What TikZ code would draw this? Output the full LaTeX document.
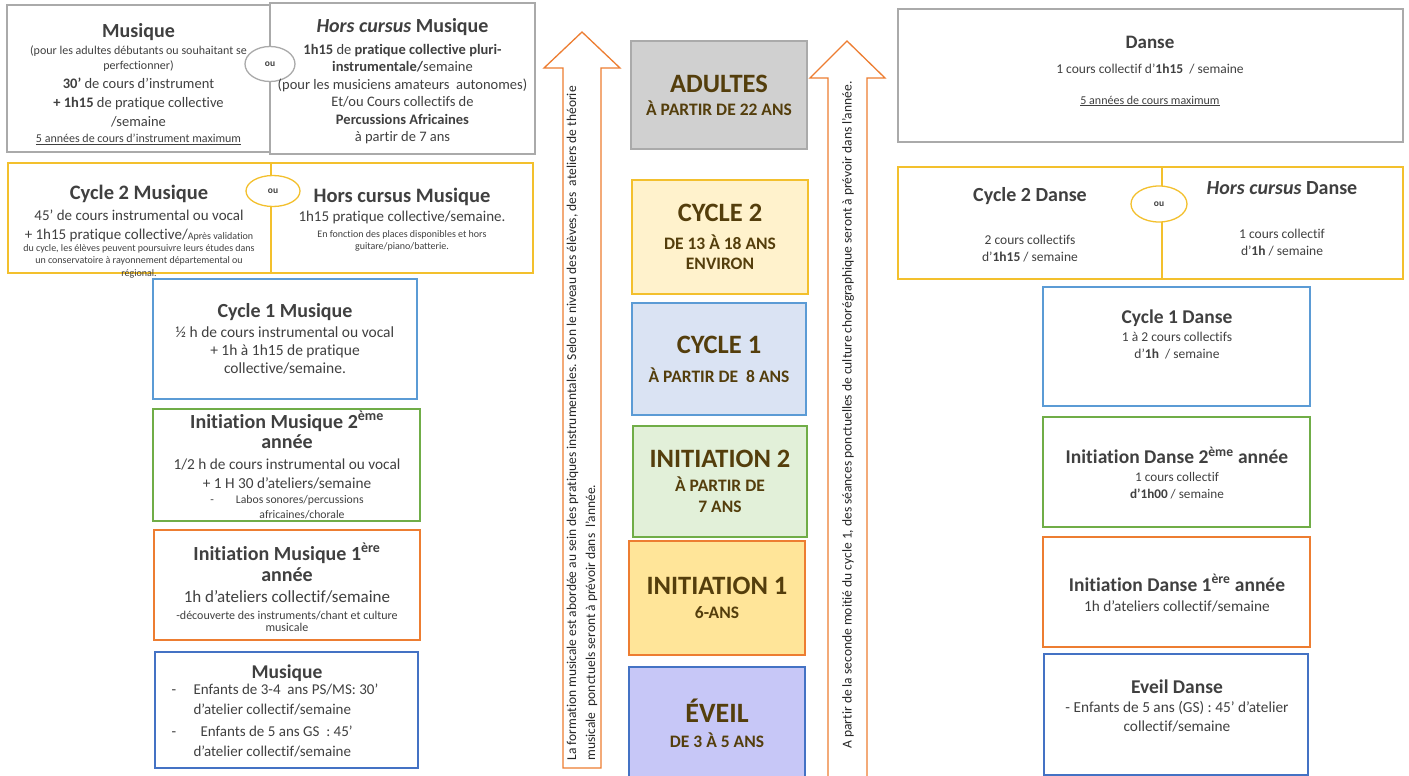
\documentclass[tikz,border=0pt]{standalone}
\usepackage{fontspec}
\setmainfont{Carlito}[Ligatures={NoCommon,NoContextual}]
\usepackage{tikz}
\usetikzlibrary{shapes.geometric}

\definecolor{grisbord}{RGB}{170,170,170}
\definecolor{jaunebord}{RGB}{243,192,45}
\definecolor{bleuclair}{RGB}{91,155,213}
\definecolor{vertbord}{RGB}{112,173,71}
\definecolor{orangebord}{RGB}{237,125,49}
\definecolor{bleufonce}{RGB}{68,114,196}
\definecolor{textegris}{RGB}{64,64,64}
\definecolor{brun}{RGB}{84,62,12}
\definecolor{fondgris}{RGB}{208,208,208}
\definecolor{fondjaune}{RGB}{255,242,204}
\definecolor{fondbleu}{RGB}{218,227,243}
\definecolor{fondvert}{RGB}{226,240,217}
\definecolor{fondorange}{RGB}{255,229,153}
\definecolor{fondlilas}{RGB}{199,199,247}

\newcommand{\taille}[2]{\fontsize{#1}{#2}\selectfont}

\begin{document}
\begin{tikzpicture}[x=1pt, y=-1pt, every node/.style={text=textegris, align=center},
    boite/.style={rectangle, draw, line width=1.3pt, fill=white, inner sep=0pt},
    niveau/.style={rectangle, draw, line width=1.3pt, inner sep=0pt, text=brun, font=\bfseries\taille{17.5}{21}},
    ou/.style={ellipse, draw, line width=1.3pt, fill=white, inner sep=0pt, font=\bfseries\taille{9.5}{10}},
    fleche/.style={draw=orangebord, line width=1.3pt, fill=white},
    note/.style={rotate=90, anchor=west, align=left, text=black!85, font=\taille{13.5}{19}}]
    \useasboundingbox (0,0) rectangle (1409,776);
    \fill[white] (0,0) rectangle (1409,776);

    % Define blocks: musique
    \node (musA) [boite, draw=grisbord, minimum width=263pt, minimum height=147pt] at (138.5,78.5) {};
    \node (hcM) [boite, draw=grisbord, minimum width=265pt, minimum height=151pt] at (402.5,78.5) {};
    \node (c2M) [boite, draw=jaunebord, minimum width=263pt, minimum height=110pt] at (139.5,218) {};
    \node (hc2M) [boite, draw=jaunebord, minimum width=262pt, minimum height=110pt] at (402,218) {};
    \node (c1M) [boite, draw=bleuclair, minimum width=264pt, minimum height=120pt] at (285,339) {};
    \node (i2M) [boite, draw=vertbord, minimum width=267pt, minimum height=112pt] at (286.5,465) {};
    \node (i1M) [boite, draw=orangebord, minimum width=266pt, minimum height=110pt] at (287,585) {};
    \node (evM) [boite, draw=bleufonce, minimum width=263pt, minimum height=116pt] at (286.5,710) {};

    % Define blocks: danse
    \node (dan) [boite, draw=grisbord, minimum width=505pt, minimum height=133pt] at (1150.5,75.5) {};
    \node (c2D) [boite, draw=jaunebord, minimum width=264pt, minimum height=112pt] at (1030,223) {};
    \node (hcD) [boite, draw=jaunebord, minimum width=241pt, minimum height=112pt] at (1282.5,223) {};
    \node (c1D) [boite, draw=bleuclair, minimum width=267pt, minimum height=119pt] at (1176.5,346.5) {};
    \node (i2D) [boite, draw=vertbord, minimum width=267pt, minimum height=110pt] at (1176.5,472) {};
    \node (i1D) [boite, draw=orangebord, minimum width=267pt, minimum height=110pt] at (1176.5,592) {};
    \node (evD) [boite, draw=bleufonce, minimum width=264pt, minimum height=121pt] at (1176,714.5) {};

    % "ou" between the two choices
    \node (ouA) [ou, draw=grisbord, minimum width=50pt, minimum height=35pt] at (270,64) {ou};
    \node (ouB) [ou, draw=jaunebord, minimum width=54pt, minimum height=31pt] at (273,191) {ou};
    \node (ouC) [ou, draw=jaunebord, minimum width=56pt, minimum height=36pt] at (1159,204) {ou};

    % Arrows
    \draw[fleche] (563,768) -- (563,68) -- (544,68) -- (582,32) -- (620,68) -- (601,68) -- (601,768) -- cycle;
    \draw[fleche] (828,780) -- (828,78) -- (810,78) -- (847,41) -- (885,78) -- (867,78) -- (867,780) -- cycle;
    \node (noteG) [note] at (582,764) {La formation musicale est abordée au sein des pratiques instrumentales. Selon le niveau des élèves, des \ ateliers de théorie\\ musicale \ ponctuels seront à prévoir dans \ l’année.};
    \node (noteD) [note] at (848,752) {A partir de la seconde moitié du cycle 1, des séances ponctuelles de culture chorégraphique seront à prévoir dans l’année.};

    % Levels
    \node (adu) [niveau, draw=grisbord, fill=fondgris, minimum width=176pt, minimum height=108pt] at (719,95)
        {{\taille{26.5}{27}ADULTES}\\[2pt] À PARTIR DE 22 ANS};
    \node (cy2) [niveau, draw=jaunebord, fill=fondjaune, minimum width=176pt, minimum height=114pt] at (720,237)
        {{\taille{26.5}{27}CYCLE 2}\\[7pt] DE 13 À 18 ANS\\[-1pt] ENVIRON};
    \node (cy1) [niveau, draw=bleuclair, fill=fondbleu, minimum width=174pt, minimum height=112pt] at (719,359)
        {{\taille{26.5}{27}CYCLE 1}\\[8pt] À PARTIR DE \ 8 ANS};
    \node (in2) [niveau, draw=vertbord, fill=fondvert, minimum width=174pt, minimum height=111pt] at (720,481.5)
        {{\taille{26.5}{27}INITIATION 2}\\[3pt] À PARTIR DE\\ 7 ANS};
    \node (in1) [niveau, draw=orangebord, fill=fondorange, minimum width=176pt, minimum height=114pt] at (717,598)
        {{\taille{26.5}{27}INITIATION 1}\\[3pt] 6-ANS};
    \node (evl) [niveau, draw=bleufonce, fill=fondlilas, minimum width=176pt, minimum height=112pt] at (717,723)
        {{\taille{28}{29}ÉVEIL}\\[4pt] DE 3 À 5 ANS};

    % Labels: musique
    \node (musAt) [font=\taille{14.5}{19}] at (138.5,84.5)
        {{\bfseries\taille{20}{20}Musique}\\[-2pt]
         {\taille{12}{13}(pour les adultes débutants ou souhaitant se}\\[-4pt]
         {\taille{12}{13}perfectionner)}\\
         \textbf{30’} de cours d’instrument\\
         \textbf{+ 1h15} de pratique collective\\
         /semaine\\[-3pt]
         {\taille{12}{13}\underline{5 années de cours d’instrument maximum}}};
    \node (hcMt) [font=\taille{14.5}{17.5}] at (402.5,81.5)
        {{\bfseries\taille{20}{20}\textit{Hors cursus} Musique}\\[4pt]
         \textbf{1h15} de \textbf{pratique collective pluri-}\\
         \textbf{instrumentale/}semaine\\
         (pour les musiciens amateurs \ autonomes)\\
         Et/ou Cours collectifs de\\
         \textbf{Percussions Africaines}\\
         à partir de 7 ans};
    \node (c2Mt) [font=\taille{15}{19}] at (139,232)
        {{\bfseries\taille{20.5}{20}Cycle 2 Musique}\\[2pt]
         45’ de cours instrumental ou vocal\\
         + 1h15 pratique collective/{\taille{10}{12}Après validation}\\[-7pt]
         {\taille{10}{12}du cycle, les élèves peuvent poursuivre leurs études dans}\\[-7pt]
         {\taille{10}{12}un conservatoire à rayonnement départemental ou}\\[-6pt]
         {\taille{10}{12}régional.}};
    \node (hc2Mt) [font=\taille{15}{19}] at (402,219.5)
        {{\bfseries\taille{20.5}{20}Hors cursus Musique}\\
         1h15 pratique collective/semaine.\\[-3pt]
         {\taille{10}{12}En fonction des places disponibles et hors}\\[-7pt]
         {\taille{10}{12}guitare/piano/batterie.}};
    \node (c1Mt) [font=\taille{15.5}{18}] at (285,339)
        {{\bfseries\taille{20}{20}Cycle 1 Musique}\\[2pt]
         ½ h de cours instrumental ou vocal\\
         + 1h à 1h15 de pratique\\
         collective/semaine.};
    \node (i2Mt) [font=\taille{15.3}{18.5}] at (287,465)
        {{\bfseries\taille{20}{20}Initiation Musique 2\textsuperscript{ème}}\\[1.5pt]
         {\bfseries\taille{20}{20}année}\\[3pt]
         1/2 h de cours instrumental ou vocal\\
         + 1 H 30 d’ateliers/semaine\\[-3.5pt]
         {\taille{11.7}{13}-\hspace{22pt}Labos sonores/percussions}\\[-3.5pt]
         {\taille{11.7}{13}\hspace*{30pt}africaines/chorale}};
    \node (i1Mt) [font=\taille{17}{19}] at (287,587.5)
        {{\bfseries\taille{20}{20}Initiation Musique 1\textsuperscript{ère}}\\[2pt]
         {\bfseries\taille{20}{20}année}\\[2pt]
         1h d’ateliers collectif/semaine\\[-2pt]
         {\taille{12}{12}-découverte des instruments/chant et culture}\\[-6.5pt]
         {\taille{12}{12}musicale}};
    \node (evMt) [font=\bfseries\taille{19.5}{19}] at (287,673) {Musique};
    \node (evMl) [anchor=west, align=left, font=\taille{15}{20}] at (168,721)
        {\makebox[22pt][l]{-}Enfants de 3-4 \ ans PS/MS: 30’\\
         \hspace*{22pt}d’atelier collectif/semaine\\[2pt]
         \makebox[29pt][l]{-}Enfants de 5 ans GS \ : 45’\\
         \hspace*{22pt}d’atelier collectif/semaine};

    % Labels: danse
    \node (dant) [font=\taille{13.5}{25}] at (1150,71)
        {{\bfseries\taille{19}{19}Danse}\\
         1 cours collectif d’\textbf{1h15} \ / semaine\\[6pt]
         {\taille{12}{12}\underline{5 années de cours maximum}}};
    \node (c2Dt) [font=\taille{13.5}{17}] at (1030,224.5)
        {{\bfseries\taille{20}{18}Cycle 2 Danse}\\[26pt]
         2 cours collectifs\\
         d’\textbf{1h15} / semaine};
    \node (hcDt) [font=\taille{13.5}{17}] at (1282,218.5)
        {{\bfseries\taille{20}{18}\textit{Hors cursus} Danse}\\[27pt]
         1 cours collectif\\
         d’\textbf{1h} / semaine};
    \node (c1Dt) [font=\taille{13.5}{16.5}] at (1177,334.5)
        {{\bfseries\taille{19.5}{18}Cycle 1 Danse}\\[1.5pt]
         1 à 2 cours collectifs\\
         d’\textbf{1h} \ / semaine};
    \node (i2Dt) [font=\taille{13.2}{16.5}] at (1177,473)
        {{\bfseries\taille{19.5}{18}Initiation Danse 2\textsuperscript{ème} année}\\[1.5pt]
         1 cours collectif\\
         \textbf{d’1h00} / semaine};
    \node (i1Dt) [font=\taille{15.3}{20}] at (1177,593)
        {{\bfseries\taille{19.5}{18}Initiation Danse 1\textsuperscript{ère} année}\\
         1h d’ateliers collectif/semaine};
    \node (evDt) [font=\taille{15.3}{19}] at (1177,706)
        {{\bfseries\taille{19.5}{18}Eveil Danse}\\
         - Enfants de 5 ans (GS) : 45’ d’atelier\\
         collectif/semaine};
\end{tikzpicture}
\end{document}
